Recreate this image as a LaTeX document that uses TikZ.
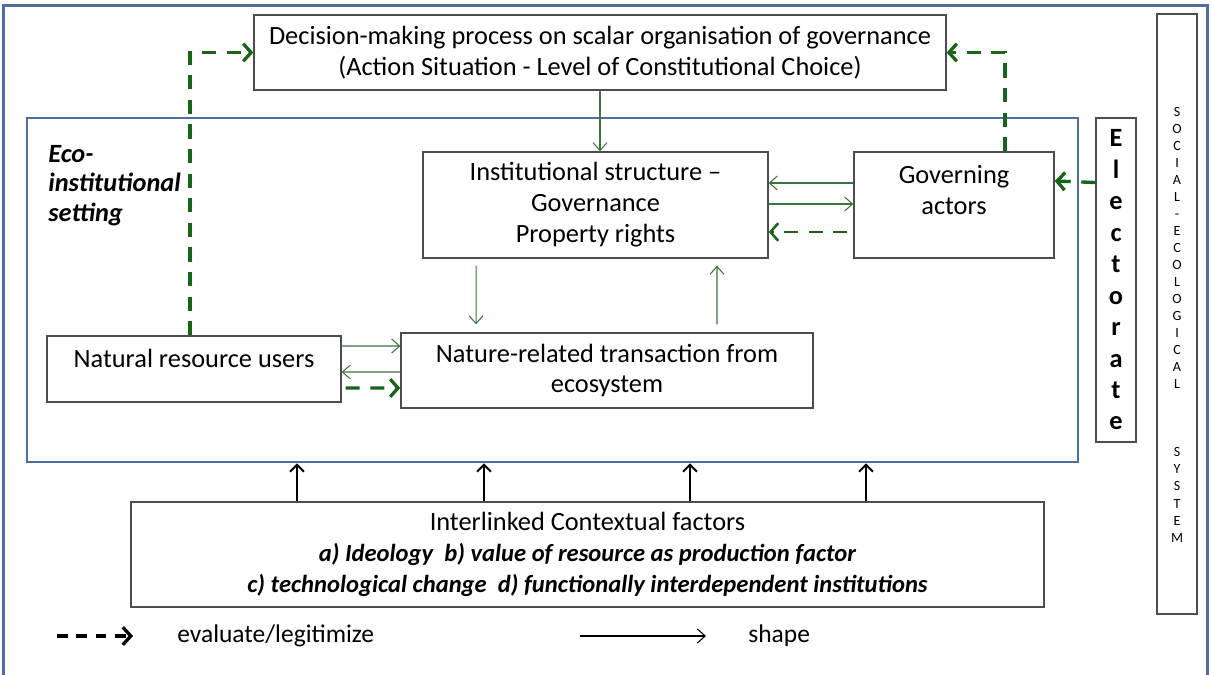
\documentclass[tikz,border=0pt]{standalone}
\usepackage{fontspec}
\setmainfont{Carlito}
\usetikzlibrary{arrows.meta,positioning,calc}

\definecolor{frameblue}{RGB}{79,110,160}
\definecolor{evalgreen}{RGB}{25,100,25}
\definecolor{shapegreen}{RGB}{60,115,60}

\tikzset{
  box/.style={draw=black!70, line width=0.8pt, fill=white, align=center, inner sep=0pt},
  shapearrow/.style={draw=shapegreen, line width=0.6pt, -{Straight Barb[length=4.5pt,width=8pt]}},
  evalarrow/.style={draw=evalgreen, line width=1.9pt, dash pattern=on 8pt off 6pt, -{Straight Barb[length=4.5pt,width=10pt]}},
  ctxarrow/.style={draw=black, line width=1.1pt, -{Straight Barb[length=4pt,width=8pt]}},
}

\begin{document}
\begin{tikzpicture}[x=0.02cm, y=-0.02cm, font=\fontsize{15}{17.6}\selectfont]
\useasboundingbox (0,0) rectangle (1212,675);

% Frames
\node[draw=frameblue, line width=1.7pt, minimum width=24.08cm, minimum height=13.52cm, inner sep=0pt] (frame) at (605.5,343) {};
\node[draw=frameblue, line width=1.5pt, minimum width=21.02cm, minimum height=6.88cm, inner sep=0pt] (setting) at (552.5,290) {};
\node[anchor=north west, align=left, inner sep=0pt, font=\fontsize{15}{16.8}\selectfont\bfseries\itshape] (ecolabel) at (48,145) {Eco-\\institutional\\setting};

% Boxes
\node[box, minimum width=13.84cm, minimum height=1.5cm] (decision) at (600,52.5) {Decision-making process on scalar organisation of governance\\(Action Situation - Level of Constitutional Choice)};
\node[box, minimum width=6.9cm, minimum height=2.12cm] (inst) at (595.5,205) {Institutional structure --\\Governance\\Property rights};
\node[box, minimum width=4cm, minimum height=2.12cm] (gov) at (954,205) {Governing\\actors\\\mbox{}};
\node[box, minimum width=5.88cm, minimum height=1.32cm] (users) at (194,369) {Natural resource users\\[-0.2cm]\mbox{}};
\node[box, minimum width=8.24cm, minimum height=1.5cm] (trans) at (607,370.5) {Nature-related transaction from\\ecosystem};
\node[box, minimum width=18.26cm, minimum height=2.1cm] (context) at (587.5,554.5) {Interlinked Contextual factors\\\fontsize{14}{17.6}\selectfont\bfseries\itshape a) Ideology~~b) value of resource as production factor\\\fontsize{14}{17.6}\selectfont\bfseries\itshape c) technological change~~d) functionally interdependent institutions};

% Side columns
\node[box, minimum width=0.8cm, minimum height=6.48cm, font=\fontsize{15}{17.9}\selectfont\bfseries] (electorate) at (1116,280) {E\\l\\e\\c\\t\\o\\r\\a\\t\\e};
\node[box, minimum width=0.8cm, minimum height=12cm] (ses) at (1177,314) {};
\node[align=center, inner sep=0pt, font=\fontsize{8}{9.7}\selectfont] (seslabel) at (1177,324.5) {S\\O\\C\\I\\A\\L\\-\\E\\C\\O\\L\\O\\G\\I\\C\\A\\L\\\mbox{}\\\mbox{}\\\mbox{}\\S\\Y\\S\\T\\E\\M};

% Shape arrows
\draw[shapearrow] (decision.south) -- (decision.south |- inst.north);
\draw[shapearrow] ([xshift=-2.39cm,yshift=-0.14cm]inst.south) -- ([xshift=-2.62cm,yshift=0.16cm]trans.north);
\draw[shapearrow] ([xshift=2.2cm,yshift=0.16cm]trans.north) -- ([xshift=2.43cm,yshift=-0.14cm]inst.south);
\draw[shapearrow] ([yshift=0.44cm]gov.west) -- ([yshift=0.44cm]inst.east);
\draw[shapearrow] ([yshift=0.02cm]inst.east) -- ([yshift=0.02cm]gov.west);
\draw[shapearrow] ([yshift=0.46cm]users.east) -- ([yshift=0.49cm]trans.west);
\draw[shapearrow] ([yshift=-0.03cm]trans.west) -- ([yshift=-0.06cm]users.east);

% Evaluate arrows
\draw[evalarrow, line width=1.4pt] ([xshift=-0.12cm,yshift=-0.54cm]gov.west) -- ([yshift=-0.54cm]inst.east);
\draw[evalarrow] ([xshift=0.08cm,yshift=-0.38cm]users.east) -- ([yshift=-0.35cm]trans.west);
\draw[evalarrow] ([xshift=-0.08cm]users.north) |- (decision.west);
\draw[evalarrow] ([xshift=1.02cm]gov.north) |- (decision.east);
\draw[evalarrow] ([yshift=1.95cm]electorate.west) -- ([yshift=0.48cm]gov.east);

% Context arrows
\foreach \x in {297,484,690,866}
  \draw[ctxarrow] (\x,0 |- context.north) -- (\x,0 |- setting.south);

% Legend
\coordinate (evalstart) at (57,636);
\coordinate (evalend) at (133,636);
\draw[draw=black, line width=1.9pt, dash pattern=on 6pt off 5pt, -{Straight Barb[length=4.5pt,width=10pt]}] (evalstart) -- (evalend);
\node[anchor=west, inner sep=0pt, font=\fontsize{14.5}{17.6}\selectfont] (evallabel) at (177,636) {evaluate/legitimize};
\coordinate (shapestart) at (580,636);
\coordinate (shapeend) at (706,636);
\draw[draw=black, line width=0.6pt, -{Straight Barb[length=4.5pt,width=8pt]}] (shapestart) -- (shapeend);
\node[anchor=west, inner sep=0pt, font=\fontsize{14.5}{17.6}\selectfont] (shapelabel) at (748,636) {shape};
\end{tikzpicture}
\end{document}
